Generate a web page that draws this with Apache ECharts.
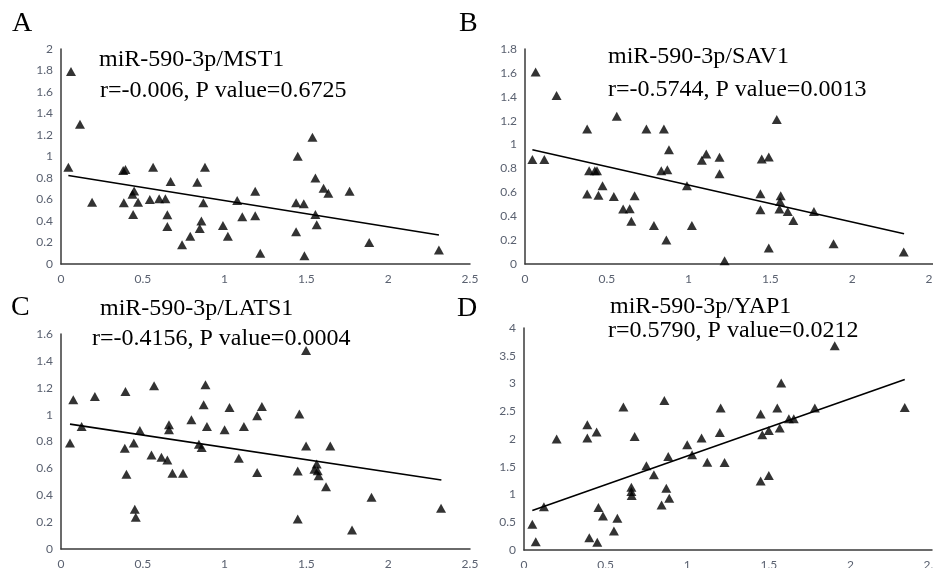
<!DOCTYPE html>
<html><head><meta charset="utf-8">
<script src="https://cdn.jsdelivr.net/npm/echarts@6/dist/echarts.min.js"></script>
<style>html,body{margin:0;padding:0;background:#fff}#c{width:933px;height:568px}</style>
</head><body><div id="c"></div>
<script>
// Panel A: miR-590-3p / MST1
const aX=[0.061,0.116,0.045,0.19,0.38,0.394,0.384,0.437,0.447,0.441,0.471,0.543,0.563,0.60,0.638,0.65,0.65,0.67,0.74,0.79,0.833,0.88,0.87,0.858,0.848,0.99,1.02,1.077,1.108,1.187,1.187,1.218,1.437,1.437,1.447,1.484,1.488,1.537,1.555,1.555,1.563,1.605,1.634,1.764,1.884,2.31];
const aY=[1.79,1.30,0.90,0.574,0.87,0.88,0.57,0.65,0.68,0.46,0.574,0.60,0.90,0.606,0.606,0.457,0.35,0.767,0.18,0.257,0.76,0.90,0.57,0.40,0.33,0.357,0.257,0.59,0.44,0.677,0.45,0.099,0.57,0.30,1.003,0.56,0.077,1.18,0.80,0.46,0.366,0.705,0.658,0.677,0.20,0.13];
const aTrendX=[0.045,2.31], aTrendY=[0.823,0.27];
// Panel B: miR-590-3p / SAV1
const bX=[0.065,0.193,0.045,0.118,0.38,0.392,0.427,0.44,0.38,0.449,0.474,0.543,0.561,0.60,0.64,0.65,0.67,0.742,0.788,0.849,0.833,0.87,0.88,0.864,0.99,1.02,1.081,1.108,1.189,1.189,1.22,1.439,1.439,1.447,1.49,1.49,1.539,1.563,1.559,1.555,1.606,1.64,1.766,1.886,2.315];
const bY=[1.608,1.41,0.874,0.874,1.13,0.78,0.78,0.78,0.586,0.575,0.656,0.566,1.236,0.46,0.463,0.357,0.572,1.13,0.323,1.13,0.78,0.79,0.957,0.20,0.656,0.323,0.868,0.92,0.893,0.756,0.028,0.589,0.455,0.879,0.896,0.134,1.209,0.572,0.524,0.46,0.44,0.365,0.44,0.17,0.10];
const bTrendX=[0.045,2.317], bTrendY=[0.957,0.254];
// Panel C: miR-590-3p / LATS1
const cX=[0.055,0.075,0.126,0.207,0.394,0.39,0.445,0.40,0.451,0.457,0.482,0.553,0.569,0.614,0.65,0.66,0.66,0.681,0.746,0.797,0.843,0.86,0.872,0.883,0.892,1.0,1.03,1.087,1.118,1.199,1.228,1.199,1.457,1.447,1.447,1.498,1.498,1.563,1.549,1.569,1.575,1.62,1.646,1.898,1.779,2.323];
const cY=[0.788,1.11,0.911,1.135,1.172,0.75,0.788,0.557,0.296,0.236,0.882,0.70,1.215,0.683,0.663,0.924,0.887,0.564,0.564,0.961,0.78,0.755,1.073,1.222,0.911,0.887,1.053,0.676,0.911,0.991,1.06,0.569,1.004,0.581,0.224,1.478,0.767,0.633,0.594,0.583,0.546,0.464,0.767,0.385,0.142,0.303];
const cTrendX=[0.055,2.325], cTrendY=[0.929,0.514];
// Panel D: miR-590-3p / YAP1
const dX=[0.051,0.072,0.122,0.20,0.388,0.388,0.445,0.40,0.449,0.456,0.484,0.551,0.572,0.609,0.658,0.658,0.66,0.678,0.75,0.796,0.843,0.86,0.872,0.884,0.89,1.0,1.03,1.088,1.123,1.205,1.2,1.229,1.45,1.46,1.5,1.45,1.5,1.552,1.576,1.567,1.623,1.653,1.782,1.904,2.333];
const dY=[0.464,0.15,0.78,2.0,2.256,2.016,2.124,0.222,0.139,0.764,0.614,0.343,0.572,2.576,1.132,1.052,0.98,2.045,1.516,1.354,0.812,2.695,1.114,1.684,0.933,1.895,1.715,2.016,1.583,2.558,2.118,1.576,2.45,2.076,2.153,1.245,1.341,2.558,3.01,2.196,2.365,2.365,2.558,3.68,2.568];
const dTrendX=[0.051,2.333], dTrendY=[0.71,3.07];

const xTicks={min:0,max:2.5,interval:0.5};
const yMax=[2,1.8,1.6,4], yInterval=[0.2,0.2,0.2,0.5];
const titles1=['miR-590-3p/MST1','miR-590-3p/SAV1','miR-590-3p/LATS1','miR-590-3p/YAP1'];
const titles2=['r=-0.006, P value=0.6725','r=-0.5744, P value=0.0013','r=-0.4156, P value=0.0004','r=0.5790, P value=0.0212'];
const letters=['A','B','C','D'];

const zip=(xs,ys)=>xs.map((x,i)=>[x,ys[i]]);
const panels=[[aX,aY,aTrendX,aTrendY],[bX,bY,bTrendX,bTrendY],[cX,cY,cTrendX,cTrendY],[dX,dY,dTrendX,dTrendY]];

const grids=[
 {left:61,top:49,width:409,height:215},
 {left:525,top:49,width:409,height:215},
 {left:61,top:334,width:409,height:215},
 {left:524,top:328,width:408,height:222}
].map(g=>Object.assign(g,{containLabel:false,outerBoundsMode:'none'}));

const axisLineStyle={lineStyle:{color:'#3a3a3a',width:1.5}};
const labelStyle={color:'#5a6170',fontFamily:'Lato',fontSize:12};

const xAxes=grids.map((g,i)=>({type:'value',gridIndex:i,min:xTicks.min,max:xTicks.max,interval:xTicks.interval,
  axisLine:Object.assign({show:true,onZero:false},axisLineStyle),axisTick:{show:false},splitLine:{show:false},
  axisLabel:Object.assign({margin:9},labelStyle)}));
const yAxes=grids.map((g,i)=>({type:'value',gridIndex:i,min:0,max:yMax[i],interval:yInterval[i],
  axisLine:Object.assign({show:true,onZero:false},axisLineStyle),axisTick:{show:false},splitLine:{show:false},
  axisLabel:Object.assign({margin:8},labelStyle)}));

const series=[];
panels.forEach((p,i)=>{
  series.push({type:'scatter',xAxisIndex:i,yAxisIndex:i,data:zip(p[0],p[1]),symbol:'triangle',symbolSize:[10,9],
    itemStyle:{color:'#000'},silent:true});
  series.push({type:'line',xAxisIndex:i,yAxisIndex:i,data:zip(p[2],p[3]),symbol:'none',
    lineStyle:{color:'#000',width:1.6},silent:true});
});

const titlePos=[[99,60,100,91],[608,57,608,90],[100,309,92,339],[610,307,608,331]];
const letterPos=[[12,24],[459,24],[11,308],[457,309]];
const graphic=[];
titlePos.forEach((t,i)=>{
  graphic.push({type:'text',style:{text:titles1[i],x:t[0],y:t[1],font:'24px "Liberation Serif"',fill:'#000',textVerticalAlign:'middle'}});
  graphic.push({type:'text',style:{text:titles2[i],x:t[2],y:t[3],font:'24px "Liberation Serif"',fill:'#000',textVerticalAlign:'middle'}});
  graphic.push({type:'text',style:{text:letters[i],x:letterPos[i][0],y:letterPos[i][1],font:'28px "Liberation Serif"',fill:'#000',textVerticalAlign:'middle'}});
});

const chart=echarts.init(document.getElementById('c'),null,{renderer:'canvas'});
chart.setOption({animation:false,backgroundColor:'#fff',grid:grids,xAxis:xAxes,yAxis:yAxes,series:series,graphic:graphic});
</script></body></html>
